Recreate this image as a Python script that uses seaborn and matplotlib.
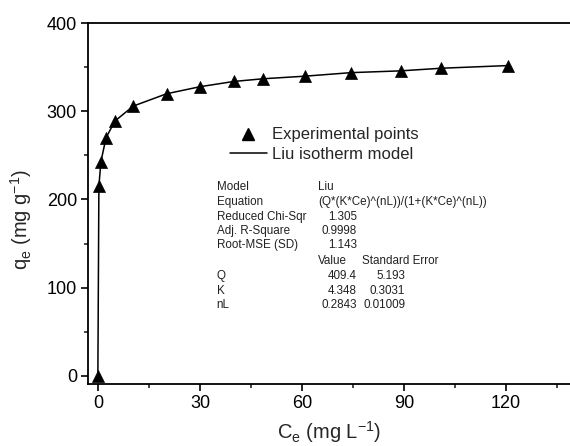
import matplotlib
matplotlib.use("Agg")
import matplotlib.pyplot as plt
import seaborn as sns
import pandas as pd
from matplotlib.ticker import MultipleLocator
from matplotlib.lines import Line2D

# Data
ce_values = [0, 0.3, 0.9, 2.4, 5.0, 10.4, 20.2, 30.0, 40.0, 48.5, 61.0, 74.5, 89.0, 101.0, 120.5]
qe_values = [0, 215, 243, 270, 289, 306, 320, 328, 334, 337, 340, 344, 346, 349, 352]

legend_labels = ["Experimental points", "Liu isotherm model"]

fit_rows = [
    ("Model", "Liu", ""),
    ("Equation", "(Q*(K*Ce)^(nL))/(1+(K*Ce)^(nL))", ""),
    ("Reduced Chi-Sqr", "1.305", ""),
    ("Adj. R-Square", "0.9998", ""),
    ("Root-MSE (SD)", "1.143", ""),
    ("", "Value", "Standard Error"),
    ("Q", "409.4", "5.193"),
    ("K", "4.348", "0.3031"),
    ("nL", "0.2843", "0.01009"),
]

df = pd.DataFrame({"Ce": ce_values, "qe": qe_values})

sns.set_style("ticks")
plt.rcParams["font.family"] = ["Liberation Sans", "DejaVu Sans"]
plt.rcParams["mathtext.fontset"] = "custom"
plt.rcParams["mathtext.rm"] = "Liberation Sans"
plt.rcParams["mathtext.it"] = "Liberation Sans"
plt.rcParams["mathtext.default"] = "regular"

W, H = 570, 446
fig = plt.figure(figsize=(W / 100, H / 100), dpi=100)
ax = fig.add_axes([88 / W, 1 - 384 / H, 1 - 88 / W, (384 - 23.3) / H])

sns.lineplot(data=df, x="Ce", y="qe", ax=ax, color="black", linewidth=1.1,
             estimator=None, sort=False, legend=False)
sns.scatterplot(data=df, x="Ce", y="qe", ax=ax, marker="^", s=75, color="black",
                edgecolor="black", linewidth=0.5, legend=False, zorder=3)

ax.set_xlim(-2.9, 138.8)
ax.set_ylim(-9.5, 400)
ax.xaxis.set_major_locator(MultipleLocator(30))
ax.xaxis.set_minor_locator(MultipleLocator(15))
ax.yaxis.set_major_locator(MultipleLocator(100))
ax.yaxis.set_minor_locator(MultipleLocator(50))
ax.tick_params(axis="both", which="major", direction="out", length=5, width=1.2,
               labelsize=13, colors="black", pad=3)
ax.tick_params(axis="both", which="minor", direction="out", length=3, width=1.2)
ax.tick_params(axis="x", which="both", top=False)
ax.tick_params(axis="y", which="both", right=False)
for side in ["left", "bottom", "top"]:
    ax.spines[side].set_linewidth(1.3)
    ax.spines[side].set_color("black")
ax.spines["right"].set_visible(False)

ax.set_xlabel("C$_e$ (mg L$^{-1}$)", fontsize=14.5, labelpad=5)
ax.set_ylabel("q$_e$ (mg g$^{-1}$)", fontsize=14.5)
ax.yaxis.set_label_coords(-0.112, 0.457)

handles = [
    Line2D([], [], linestyle="none", marker="^", markersize=8.7, color="black"),
    Line2D([], [], color="black", linewidth=1.1),
]
leg = ax.legend(handles, legend_labels, loc="upper left",
                bbox_to_anchor=(230 / W, 1 - 127.5 / H), bbox_transform=fig.transFigure,
                frameon=False, fontsize=12, handlelength=2.2, handletextpad=0.3,
                labelspacing=0.25, borderpad=0, borderaxespad=0)

row_y = [187.3, 202, 217, 231, 245, 260.5, 276, 291, 305]
txt_kw = dict(fontsize=8.4, va="center", color="#222222")
for (c1, c2, c3), y in zip(fit_rows, row_y):
    fy = 1 - y / H
    if c1:
        fig.text(216.7 / W, fy, c1, ha="left", **txt_kw)
    if c2:
        if c2 in ("Liu", "Value") or c2.startswith("("):
            fig.text(318 / W, fy, c2, ha="left", **txt_kw)
        else:
            fig.text(357 / W, fy, c2, ha="right", **txt_kw)
    if c3:
        if c3 == "Standard Error":
            fig.text(362 / W, fy, c3, ha="left", **txt_kw)
        else:
            fig.text(405 / W, fy, c3, ha="right", **txt_kw)

fig.savefig("out.png", dpi=100)
